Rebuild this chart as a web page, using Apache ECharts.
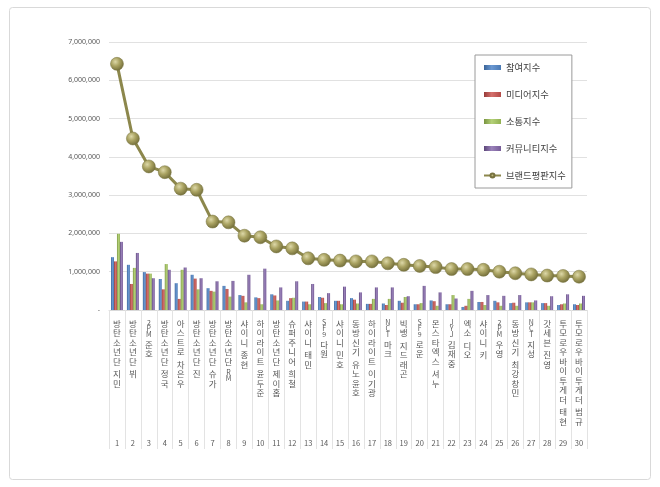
<!DOCTYPE html>
<html>
<head>
<meta charset="utf-8">
<script src="https://cdn.jsdelivr.net/npm/echarts@6/dist/echarts.min.js"></script>
<style>
html,body{margin:0;padding:0;background:#fff;}
#c{width:660px;height:487px;}
</style>
</head>
<body>
<div id="c"></div>
<script>
const categories = ['방탄소년단 지민','방탄소년단 뷔','2PM 준호','방탄소년단 정국','아스트로 차은우','방탄소년단 진','방탄소년단 슈가','방탄소년단 RM','샤이니 종현','하이라이트 윤두준','방탄소년단 제이홉','슈퍼주니어 희철','샤이니 태민','SF9 다원','샤이니 민호','동방신기 유노윤호','하이라이트 이기광','NCT 마크','빅뱅 지드래곤','SF9 로운','몬스타엑스 셔누','JYJ 김재중','엑소 디오','샤이니 키','2PM 우영','동방신기 최강창민','NCT 지성','갓세븐 진영','투모로우바이투게더 태현','투모로우바이투게더 범규'];
const ranks = ['1','2','3','4','5','6','7','8','9','10','11','12','13','14','15','16','17','18','19','20','21','22','23','24','25','26','27','28','29','30'];
const yTicks = [0,1000000,2000000,3000000,4000000,5000000,6000000,7000000];
const seriesNames = ['참여지수','미디어지수','소통지수','커뮤니티지수','브랜드평판지수'];
const participation = [1380000,1180000,990000,810000,700000,920000,570000,630000,390000,330000,410000,240000,220000,340000,240000,310000,160000,170000,240000,150000,250000,150000,80000,210000,240000,180000,200000,180000,130000,150000];
const media = [1270000,680000,950000,540000,290000,820000,500000,550000,370000,310000,380000,310000,220000,320000,240000,270000,160000,130000,190000,150000,230000,150000,110000,210000,200000,190000,200000,180000,150000,130000];
const communication = [1990000,1100000,950000,1200000,1050000,540000,480000,350000,200000,150000,250000,320000,150000,180000,150000,170000,290000,290000,340000,180000,110000,390000,290000,130000,110000,110000,200000,110000,170000,170000];
const community = [1780000,1490000,830000,1050000,1110000,830000,750000,760000,920000,1080000,590000,750000,680000,440000,610000,460000,590000,590000,360000,630000,460000,300000,500000,390000,370000,390000,250000,360000,410000,370000];
const brand = [6430000,4480000,3750000,3600000,3170000,3140000,2310000,2290000,1940000,1900000,1660000,1610000,1350000,1310000,1290000,1270000,1270000,1220000,1180000,1150000,1120000,1070000,1070000,1050000,1000000,960000,930000,900000,890000,870000];

const FONT = '"Noto Sans CJK KR","Noto Sans",sans-serif';
function grad(dark, mid, light) {
  return {type:'linear', x:0, y:0, x2:1, y2:0, colorStops:[
    {offset:0, color:dark},{offset:0.45, color:light},{offset:1, color:mid}]};
}
function vert(name) {
  const parts = name.split(' ');
  const lines = [];
  parts.forEach((p, i) => {
    if (i > 0) lines.push('{g| }');
    if (/^[A-Za-z0-9]+$/.test(p)) { for (const ch of p) lines.push('{l|' + ch + '}'); }
    else { for (const ch of p) lines.push(ch); }
  });
  return lines.join('\n');
}
function fmt(v) {
  if (v === 0) return '-';
  return String(v).replace(/\B(?=(\d{3})+(?!\d))/g, ',');
}
const barColors = [
  grad('#3a6498','#4a79b3','#6a98d2'),
  grad('#963b39','#b34a47','#d4706c'),
  grad('#78933f','#92b152','#b4d178'),
  grad('#5c4679','#775c98','#9a82ba')
];
const chart = echarts.init(document.getElementById('c'));
const barData = [participation, media, communication, community];
const series = barData.map((d, i) => ({
  name: seriesNames[i], type:'bar', xAxisIndex:0, data:d,
  barGap:'0%', barCategoryGap:'25%',
  itemStyle:{color:barColors[i]}
}));
series.push({
  name: seriesNames[4], type:'line', xAxisIndex:0, data:brand,
  symbol:'circle', symbolSize:13,
  lineStyle:{color:'#8c874c', width:3},
  itemStyle:{
    color:{type:'radial', x:0.38, y:0.35, r:0.7, colorStops:[
      {offset:0, color:'#ddd8a8'},{offset:0.45, color:'#aaa362'},{offset:1, color:'#6f6a37'}]},
    borderColor:'#77723f', borderWidth:0.5
  },
  z:5
});
chart.setOption({
  backgroundColor:'#ffffff',
  animation:false,
  textStyle:{fontFamily:FONT},
  graphic:[{type:'rect', shape:{x:9.5, y:7.5, width:641, height:472, r:3},
    style:{fill:'none', stroke:'#d9d9d9', lineWidth:1}, silent:true, z:-1}],
  grid:{left:109, right:73, top:42, bottom:177, containLabel:false},
  legend:{
    orient:'vertical', left:475, top:55,
    padding:[6,6,6,8], itemGap:14, itemWidth:17, itemHeight:5,
    backgroundColor:'#ffffff', borderColor:'#9a9a9a', borderWidth:1,
    textStyle:{fontFamily:FONT, fontSize:9.3, color:'#404040', lineHeight:13},
    data:[
      {name:seriesNames[0], icon:'rect'},
      {name:seriesNames[1], icon:'rect'},
      {name:seriesNames[2], icon:'rect'},
      {name:seriesNames[3], icon:'rect'},
      {name:seriesNames[4]}
    ]
  },
  xAxis:[
    {type:'category', data:categories, gridIndex:0, position:'bottom',
     axisLine:{show:true, lineStyle:{color:'#d9d9d9'}},
     axisTick:{show:true, interval:0, length:139, lineStyle:{color:'#e3e3e3'}},
     axisLabel:{interval:0, margin:9, fontFamily:FONT, fontSize:8.5, lineHeight:9.5, color:'#595959',
       formatter:(v) => vert(v),
       rich:{g:{fontSize:3, lineHeight:3}, l:{fontSize:7, lineHeight:6, fontFamily:FONT, color:'#595959'}}}
    },
    {type:'category', data:ranks, gridIndex:0, position:'bottom', offset:121,
     axisLine:{show:false}, axisTick:{show:false},
     axisLabel:{interval:0, margin:8, fontFamily:FONT, fontSize:7.5, color:'#595959'}
    }
  ],
  yAxis:{type:'value', min:yTicks[0], max:yTicks[yTicks.length-1], interval:yTicks[1]-yTicks[0],
    axisLine:{show:false}, axisTick:{show:false},
    splitLine:{lineStyle:{color:'#e1e1e1'}},
    axisLabel:{margin:9, fontFamily:'"Noto Sans",sans-serif', fontSize:7, color:'#595959', formatter:fmt}
  },
  series:series
});
</script>
</body>
</html>
